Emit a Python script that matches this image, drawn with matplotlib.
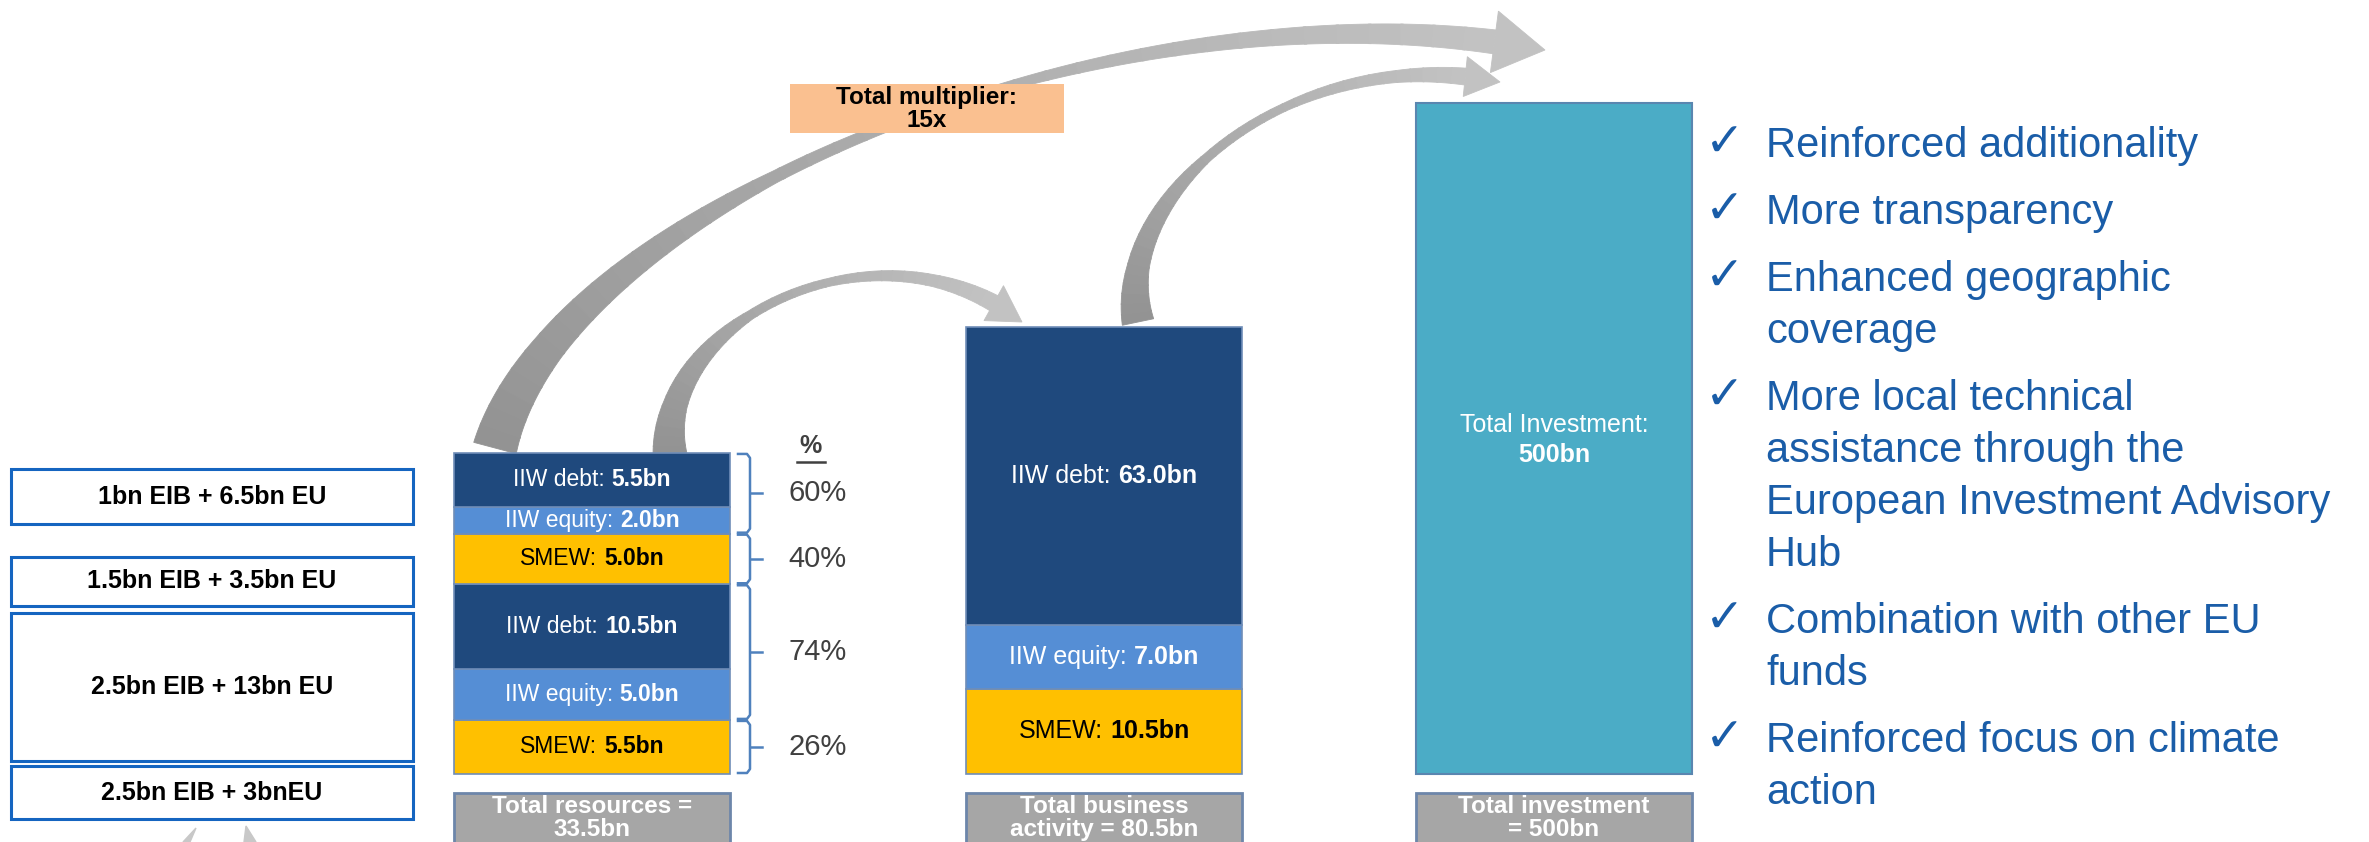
"""EFSI 2.0 resources -> business activity -> investment schematic"""

import numpy as np
import matplotlib
matplotlib.use('Agg')
import matplotlib.pyplot as plt
from matplotlib.patches import Rectangle, Polygon
from matplotlib.offsetbox import TextArea, HPacker, VPacker, AnnotationBbox

# ---- data ----
res_labels = ['IIW debt:', 'IIW equity:', 'SMEW:', 'IIW debt:', 'IIW equity:', 'SMEW:']
res_values = [5.5, 2.0, 5.0, 10.5, 5.0, 5.5]
res_kinds = ['debt', 'equity', 'smew', 'debt', 'equity', 'smew']

biz_labels = ['IIW debt:', 'IIW equity:', 'SMEW:']
biz_values = [63.0, 7.0, 10.5]
biz_kinds = ['debt', 'equity', 'smew']

total_investment = 500
multiplier = 15

groups = [[0, 1], [2], [3, 4], [5]]        # segments under each bracket
group_pct = ['60%', '40%', '74%', '26%']
group_src = ['1bn EIB + 6.5bn EU', '1.5bn EIB + 3.5bn EU',
             '2.5bn EIB + 13bn EU', '2.5bn EIB + 3bnEU']

total_labels = ['Total resources =\n33.5bn',
                'Total business\nactivity = 80.5bn',
                'Total investment\n= 500bn']

bullets = [
    ['Reinforced additionality'],
    ['More transparency'],
    ['Enhanced geographic', 'coverage'],
    ['More local technical', 'assistance through the',
     'European Investment Advisory', 'Hub'],
    ['Combination with other EU', 'funds'],
    ['Reinforced focus on climate', 'action'],
]

# ---- style ----
colors = {'debt': '#1F497D', 'equity': '#558ED5', 'smew': '#FFC000'}
txt_col = {'debt': 'white', 'equity': 'white', 'smew': 'black'}
BLUE_TXT = '#1A5DA8'
W, H = 2369, 842
SANS = ['Liberation Sans', 'DejaVu Sans']
NARROW = ['Liberation Sans Narrow', 'Liberation Sans', 'DejaVu Sans']

# schematic scale: segment height ~ K * value**0.7 (not linear in the source)
K, P = 16.4, 0.7
BASE = 774
bar_w = 276
bar_x = [454, 966, 1416]

fig = plt.figure(figsize=(W / 100, H / 100), dpi=100)
ax = fig.add_axes([0, 0, 1, 1])
ax.set_xlim(0, W)
ax.set_ylim(H, 0)
ax.axis('off')


def mixed_label(x, y, parts, size, color):
    areas = [TextArea(s, textprops=dict(color=color, fontsize=size,
                                        fontweight=w, family=SANS))
             for s, w in parts]
    box = HPacker(children=areas, align='baseline', pad=0, sep=5)
    ab = AnnotationBbox(box, (x, y), frameon=False, box_alignment=(0.5, 0.5), pad=0)
    ab.set_zorder(6)
    ax.add_artist(ab)


def stacked(x0, labels, values, kinds, size):
    y = BASE
    spans = []
    for lab, v, k in zip(labels[::-1], values[::-1], kinds[::-1]):
        h = K * v ** P
        ax.add_patch(Rectangle((x0, y - h), bar_w, h, facecolor=colors[k],
                               edgecolor='#6F8DB8', lw=1.2, zorder=4))
        mixed_label(x0 + bar_w / 2, y - h / 2,
                    [(lab, 'normal'), (f'{v:.1f}bn', 'bold')], size, txt_col[k])
        spans.append((y - h, y))
        y -= h
    return spans[::-1]


def curved_arrow(p0, p1, p2, p3, wpos, wval, head_w, head_l, c0, c1):
    t = np.linspace(0, 1, 500)[:, None]
    pts = ((1 - t) ** 3 * np.array(p0) + 3 * (1 - t) ** 2 * t * np.array(p1)
           + 3 * (1 - t) * t ** 2 * np.array(p2) + t ** 3 * np.array(p3))
    d = np.r_[0, np.cumsum(np.hypot(*np.diff(pts, axis=0).T))]
    base = d[-1] - head_l
    keep = d <= base
    tan = np.gradient(pts, axis=0)
    tan /= np.hypot(tan[:, 0], tan[:, 1])[:, None]
    nrm = np.c_[-tan[:, 1], tan[:, 0]]
    wid = np.interp(d / base, wpos, wval)
    left = pts + nrm * wid[:, None] / 2
    right = pts - nrm * wid[:, None] / 2
    idx = np.where(keep)[0]
    n_chunks = 40
    cuts = np.linspace(0, len(idx) - 1, n_chunks + 1).astype(int)
    ca, cb = np.array(matplotlib.colors.to_rgb(c0)), np.array(matplotlib.colors.to_rgb(c1))
    for i in range(n_chunks):
        a, b = idx[cuts[i]], idx[min(cuts[i + 1] + 1, len(idx) - 1)]
        poly = np.r_[left[a:b + 1], right[a:b + 1][::-1]]
        col = ca + (cb - ca) * i / (n_chunks - 1)
        ax.add_patch(Polygon(poly, closed=True, facecolor=col, edgecolor=col,
                             lw=0.6, zorder=2))
    j = idx[-1]
    head = [pts[j] + nrm[j] * head_w / 2, p3, pts[j] - nrm[j] * head_w / 2]
    ax.add_patch(Polygon(head, closed=True, facecolor=cb, edgecolor=cb, lw=0.6, zorder=2))


# ---- arrows ----
curved_arrow((495, 448), (560, 200), (1130, -30), (1545, 50),
             [0, 0.1, 0.35, 0.55, 0.8, 1.0], [44, 32, 12, 8, 16, 24],
             62, 50, '#939393', '#C2C2C2')
curved_arrow((670, 455), (655, 320), (880, 210), (1022, 322),
             [0, 0.12, 0.4, 0.6, 0.85, 1.0], [34, 24, 9, 8, 12, 17],
             40, 34, '#939393', '#C2C2C2')
curved_arrow((1138, 322), (1110, 190), (1300, 40), (1500, 82),
             [0, 0.12, 0.4, 0.6, 0.85, 1.0], [32, 22, 9, 8, 12, 17],
             40, 34, '#939393', '#C2C2C2')
# cut-off arrow tips at the bottom left
ax.add_patch(Polygon([(183, 842), (196, 828), (190, 842)], closed=True, color='#C8C8C8', zorder=2))
ax.add_patch(Polygon([(244, 842), (246, 826), (256, 842)], closed=True, color='#C8C8C8', zorder=2))

# ---- bars ----
res_spans = stacked(bar_x[0], res_labels, res_values, res_kinds, 16.5)
biz_spans = stacked(bar_x[1], biz_labels, biz_values, biz_kinds, 18)

ax.add_patch(Rectangle((bar_x[2], 103), bar_w, BASE - 103, facecolor='#4BACC6',
                       edgecolor='#5A86B0', lw=1.5, zorder=4))
inv = VPacker(children=[
    TextArea('Total Investment:', textprops=dict(color='white', fontsize=18, family=SANS)),
    TextArea(f'{total_investment}bn', textprops=dict(color='white', fontsize=18,
                                                     fontweight='bold', family=SANS))],
    align='center', pad=0, sep=5)
ab = AnnotationBbox(inv, (bar_x[2] + bar_w / 2, 440), frameon=False, pad=0)
ab.set_zorder(6)
ax.add_artist(ab)

for x0, lab in zip(bar_x, total_labels):
    ax.add_patch(Rectangle((x0, 793), bar_w, 60, facecolor='#A6A6A6',
                           edgecolor='#6D86AA', lw=2, zorder=4))
    ax.text(x0 + bar_w / 2, 818, lab, ha='center', va='center', color='white',
            fontsize=17.5, fontweight='bold', family=SANS, linespacing=0.95, zorder=5)

# ---- multiplier box ----
ax.add_patch(Rectangle((790, 84), 274, 49, facecolor='#FAC090', edgecolor='none', zorder=5))
ax.text(927, 109, f'Total multiplier:\n{multiplier}x', ha='center', va='center',
        fontsize=17.5, fontweight='bold', family=SANS, linespacing=1.05, zorder=6)

# ---- brackets + shares ----
ax.text(811, 446, '%', ha='center', va='center', fontsize=18, color='#404040',
        family=SANS, fontweight='bold')
ax.plot([797, 825], [462, 462], color='#404040', lw=1.8)
for g, pct in zip(groups, group_pct):
    top = res_spans[g[0]][0] + 1
    bot = res_spans[g[-1]][1] - 1
    mid = (top + bot) / 2
    bx = 750
    ax.plot([738, bx - 3, bx, bx, bx - 3, 738],
            [top, top, top + 4, bot - 4, bot, bot], color='#4F81BD', lw=1.8,
            solid_joinstyle='round')
    ax.plot([bx, 762], [mid, mid], color='#4F81BD', lw=1.8)
    ax.text(788, mid, pct, ha='left', va='center', fontsize=21, color='#404040', family=SANS)

# ---- source boxes ----
src_y = [(469, 524), (557, 606), (613, 761), (766, 819)]
for (y0, y1), lab in zip(src_y, group_src):
    ax.add_patch(Rectangle((11, y0), 402, y1 - y0, facecolor='white',
                           edgecolor='#1565C0', lw=2.2, zorder=3))
    ax.text(212, (y0 + y1) / 2, lab, ha='center', va='center', fontsize=18,
            fontweight='bold', family=NARROW, color='black', zorder=4)

# ---- bullet list ----
y = 146
for item in bullets:
    ax.text(1705, y - 2, '\u2713', ha='left', va='center', fontsize=34,
            color=BLUE_TXT, family=['DejaVu Sans'])
    for i, line in enumerate(item):
        ax.text(1766, y + i * 52, line, ha='left', va='center', fontsize=30,
                color=BLUE_TXT, family=SANS)
    y += len(item) * 52 + 15

fig.savefig('out.png', dpi=100)
